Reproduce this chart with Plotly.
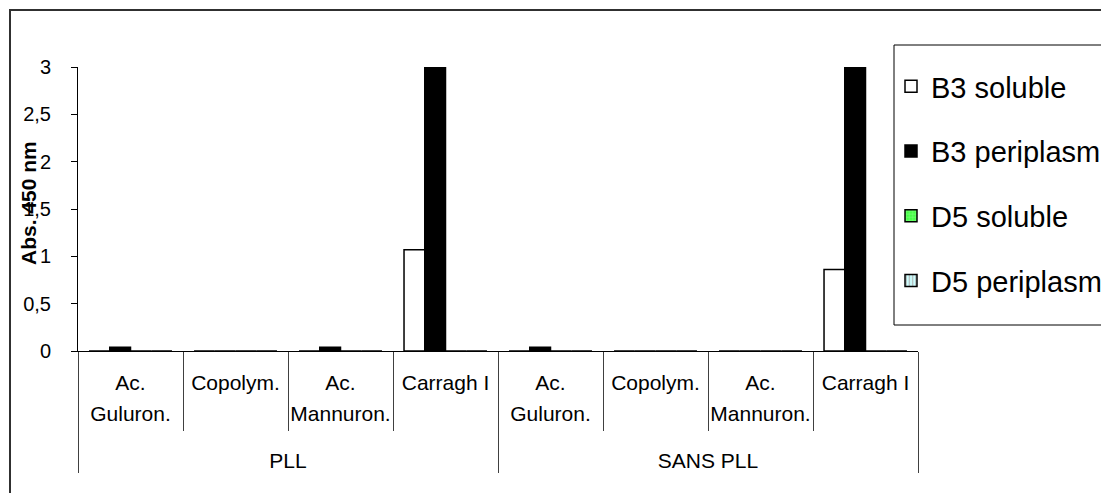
import plotly.graph_objects as go

groups = ["PLL"] * 4 + ["SANS PLL"] * 4
categories = ["Ac. Guluron.", "Copolym.", "Ac. Mannuron.", "Carragh I"] * 2
b3_soluble = [0, 0, 0, 1.07, 0, 0, 0, 0.86]
b3_periplasm = [0.04, 0, 0.04, 3.0, 0.04, 0, 0, 3.0]
d5_soluble = [0, 0, 0, 0, 0, 0, 0, 0]
d5_periplasm = [0, 0, 0, 0, 0, 0, 0, 0]
y_ticks = [0, 0.5, 1, 1.5, 2, 2.5, 3]

FONT = "Liberation Sans, Arial, sans-serif"
GLYPH = 21  # visible label size; the axis font size sets the (wider) line pitch


def cat_label(name):
    txt = name.replace("Ac. ", "Ac.<br>")
    txt = "<br>".join(f"<span style='font-size:{GLYPH}px'>{p}</span>" for p in txt.split("<br>"))
    return txt + f"<br><span style='font-size:{GLYPH}px'>\u00a0</span>"


def group_label(name):
    return f"<span style='font-size:{GLYPH}px'>{name}</span>"


x = [[group_label(g) for g in groups], [cat_label(c) for c in categories]]

fig = go.Figure()
fig.add_trace(go.Bar(x=x, y=b3_soluble, name="B3 soluble", legendgroup="a",
                     marker=dict(color="white", line=dict(color="black", width=1.5))))
fig.add_trace(go.Bar(x=x, y=b3_periplasm, name="B3 periplasm", legendgroup="b",
                     marker=dict(color="black", line=dict(color="black", width=1.5))))
fig.add_trace(go.Bar(x=x, y=d5_soluble, name="D5 soluble", legendgroup="c",
                     marker=dict(color="#44ff44", line=dict(color="black", width=1.5),
                                 pattern=dict(shape="+", bgcolor="#44ff44", fgcolor="#ccffcc",
                                              size=4, solidity=0.3))))
fig.add_trace(go.Bar(x=x, y=d5_periplasm, name="D5 periplasm", legendgroup="d",
                     marker=dict(color="#ccffff", line=dict(color="black", width=1.5),
                                 pattern=dict(shape="|", bgcolor="#ccffff", fgcolor="#a08888",
                                              size=4, solidity=0.5))))

# page body has an 8px margin: positions below are in screenshot pixels
OFF = 8
W, H = 1101, 485
L, T = 78 - OFF, 67 - OFF
pw, ph = 840, 284
R = W - L - pw
B = H - T - ph


def px(xs):
    return (xs - OFF - L) / pw


def py(ys):
    return (H - B - (ys - OFF)) / ph


fig.update_layout(
    width=W, height=H,
    margin=dict(l=L, r=R, t=T, b=B, autoexpand=False),
    paper_bgcolor="white", plot_bgcolor="white",
    separators=", ",
    barmode="group", bargap=0.21, bargroupgap=0,
    font=dict(family=FONT, size=19, color="black"),
    showlegend=True,
    legend=dict(x=px(891), y=py(61), xanchor="left", yanchor="top",
                font=dict(family=FONT, size=29, color="black"),
                bgcolor="rgba(0,0,0,0)", borderwidth=0,
                tracegroupgap=24, traceorder="grouped"),
    xaxis=dict(type="multicategory", showline=True, linecolor="black", linewidth=1,
               ticks="outside", tickson="boundaries", ticklen=79, tickcolor="#404040",
               tickwidth=1, ticklabelstandoff=9, tickangle=0,
               showdividers=True, dividercolor="#404040", dividerwidth=1,
               tickfont=dict(family=FONT, size=24, color="black"),
               showgrid=False, zeroline=False),
    yaxis=dict(range=[0, 3], tickvals=y_ticks, showline=True, linecolor="black",
               linewidth=1, ticks="outside", ticklen=6, tickcolor="black",
               ticklabelstandoff=16,
               tickfont=dict(family=FONT, size=20, color="black"),
               showgrid=False, zeroline=False),
    shapes=[
        dict(type="rect", xref="paper", yref="paper", x0=px(10), x1=px(1200),
             y0=py(700), y1=py(10), line=dict(color="#303030", width=2)),
        dict(type="rect", xref="paper", yref="paper", x0=px(894), x1=px(1200),
             y0=py(325), y1=py(45), line=dict(color="black", width=1)),
    ],
    annotations=[
        dict(text="<b>Abs. 450 nm</b>", xref="paper", yref="paper",
             x=px(28), y=py(203), textangle=-90, showarrow=False,
             font=dict(family=FONT, size=21, color="black"),
             xanchor="center", yanchor="middle"),
    ],
)

fig.write_html("out.html")
